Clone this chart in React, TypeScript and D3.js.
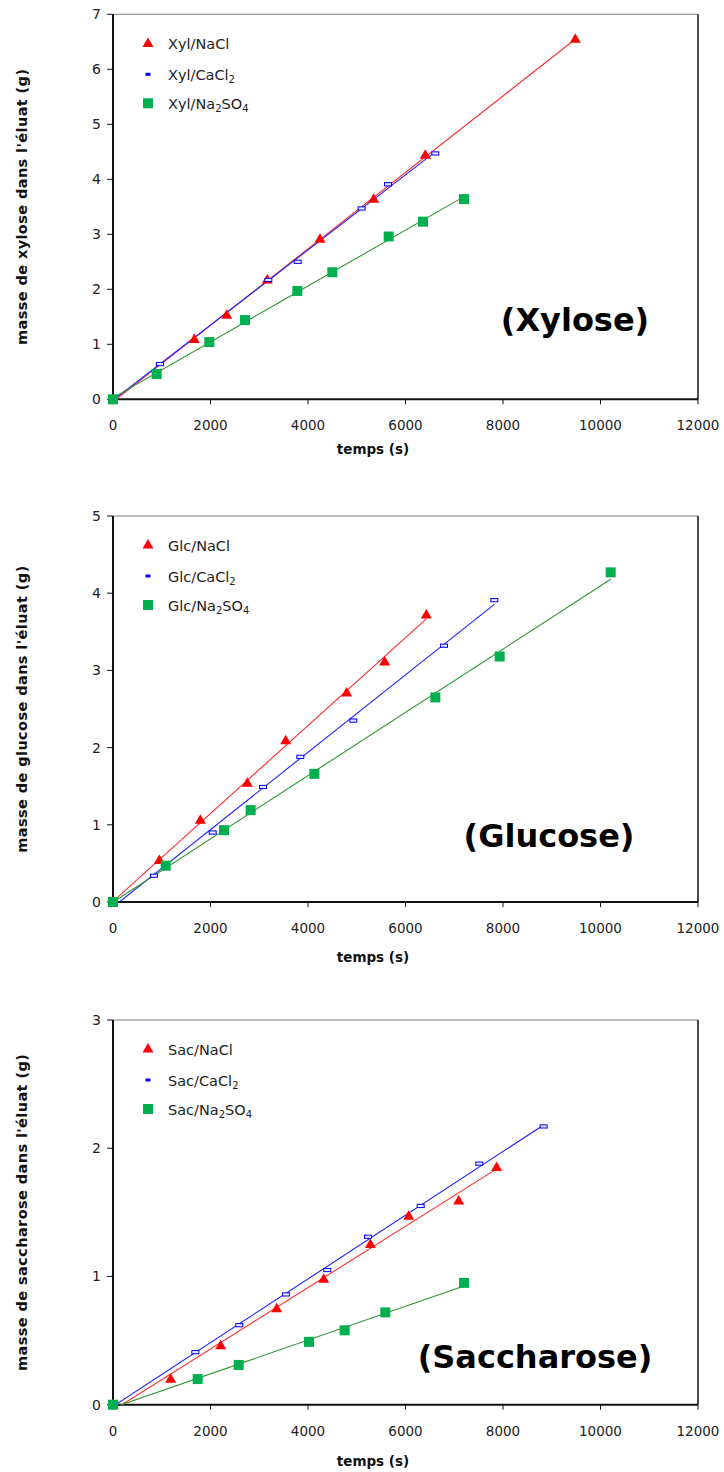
import React from "react";
import * as d3 from "d3";

// ---- data: [time (s), mass (g)] ----
const xylNaCl: [number, number][] = [[0, 0], [1667, 1.09], [2332, 1.53], [3165, 2.17], [4246, 2.91], [5347, 3.64], [6406, 4.44], [9483, 6.55]];
const xylCaCl2: [number, number][] = [[0, 0], [964, 0.64], [3186, 2.17], [3788, 2.5], [5101, 3.47], [5641, 3.91], [6611, 4.47]];
const xylNa2SO4: [number, number][] = [[0, 0], [896, 0.46], [1976, 1.04], [2708, 1.44], [3781, 1.97], [4499, 2.31], [5655, 2.96], [6359, 3.23], [7200, 3.64]];

const glcNaCl: [number, number][] = [[0, 0], [950, 0.54], [1791, 1.06], [2755, 1.54], [3542, 2.09], [4793, 2.71], [5573, 3.11], [6427, 3.72]];
const glcCaCl2: [number, number][] = [[0, 0], [841, 0.34], [2045, 0.9], [3077, 1.49], [3842, 1.88], [4929, 2.35], [6790, 3.32], [7822, 3.91]];
const glcNa2SO4: [number, number][] = [[0, 0], [1081, 0.47], [2277, 0.93], [2824, 1.19], [4130, 1.66], [6612, 2.65], [7932, 3.18], [10209, 4.27]];

const sacNaCl: [number, number][] = [[0, 0], [1183, 0.2], [2209, 0.46], [3357, 0.75], [4322, 0.98], [5279, 1.25], [6065, 1.47], [7091, 1.59], [7870, 1.85]];
const sacCaCl2: [number, number][] = [[0, 0], [1689, 0.41], [2591, 0.62], [3549, 0.86], [4396, 1.05], [5231, 1.31], [6312, 1.55], [7514, 1.88], [8834, 2.17]];
const sacNa2SO4: [number, number][] = [[0, 0], [1737, 0.2], [2578, 0.31], [4021, 0.49], [4752, 0.58], [5586, 0.72], [7200, 0.95]];

const timeTicks = [0, 2000, 4000, 6000, 8000, 10000, 12000];
const saltNames = ["NaCl", "CaCl2", "Na2SO4"];

const RED = "#ff0000";
const BLUE = "#0000ff";
const GREEN = "#00b050";
const lineColors = ["#ff2a2a", "#2020ff", "#2a962a"];

type Panel = {
  prefix: string;
  title: string;
  yLabel: string;
  yMax: number;
  top: number;
  bottom: number;
  series: [number, number][][];
  labelX: number;
  labelY: number;
  xTitleOffset: number;
};

const panels: Panel[] = [
  { prefix: "Xyl", title: "(Xylose)", yLabel: "masse de xylose dans l'éluat (g)", yMax: 7, top: 14.3, bottom: 399.3, series: [xylNaCl, xylCaCl2, xylNa2SO4], labelX: 575, labelY: 331, xTitleOffset: 50 },
  { prefix: "Glc", title: "(Glucose)", yLabel: "masse de glucose dans l'éluat (g)", yMax: 5, top: 516, bottom: 902, series: [glcNaCl, glcCaCl2, glcNa2SO4], labelX: 549, labelY: 847, xTitleOffset: 55 },
  { prefix: "Sac", title: "(Saccharose)", yLabel: "masse de saccharose dans l'éluat (g)", yMax: 3, top: 1020, bottom: 1404.7, series: [sacNaCl, sacCaCl2, sacNa2SO4], labelX: 535, labelY: 1368, xTitleOffset: 56 },
];

const X0 = 113;
const X1 = 698;
const FONT = "'DejaVu Sans', sans-serif";

// least-squares straight line through a series
function fit(pts: [number, number][]) {
  const mx = d3.mean(pts, (p) => p[0])!;
  const my = d3.mean(pts, (p) => p[1])!;
  let sxy = 0, sxx = 0;
  for (const [x, y] of pts) {
    sxy += (x - mx) * (y - my);
    sxx += (x - mx) * (x - mx);
  }
  const slope = sxy / sxx;
  return { slope, intercept: my - slope * mx };
}

function Marker({ kind, x, y, legend }: { kind: number; x: number; y: number; legend?: boolean }) {
  if (kind === 0) {
    const w = 5.5, h = 9.5;
    return <path d={`M${x},${y - h * 0.62}L${x + w},${y + h * 0.38}L${x - w},${y + h * 0.38}Z`} fill={RED} />;
  }
  if (kind === 1) {
    if (legend) return <rect x={x - 2.5} y={y - 1.5} width={5} height={3} fill={BLUE} />;
    return <rect x={x - 3.5} y={y - 1.6} width={7} height={3.2} fill="#e8e8ff" stroke={BLUE} strokeWidth={1} />;
  }
  return <rect x={x - 5} y={y - 5} width={10} height={10} fill={GREEN} />;
}

function LegendText({ prefix, salt, x, y }: { prefix: string; salt: string; x: number; y: number }) {
  const common = { x, y, fontFamily: FONT, fontSize: 14.5, fill: "#222", dominantBaseline: "central" as const };
  if (salt === "NaCl") return <text {...common}>{prefix}/NaCl</text>;
  if (salt === "CaCl2")
    return (
      <text {...common}>
        {prefix}/CaCl<tspan fontSize={10} dy={4}>2</tspan>
      </text>
    );
  return (
    <text {...common}>
      {prefix}/Na<tspan fontSize={10} dy={4}>2</tspan>
      <tspan dy={-4}>SO</tspan>
      <tspan fontSize={10} dy={4}>4</tspan>
    </text>
  );
}

function ChartPanel({ p, idx }: { p: Panel; idx: number }) {
  const x = d3.scaleLinear().domain([0, 12000]).range([X0, X1]);
  const y = d3.scaleLinear().domain([0, p.yMax]).range([p.bottom, p.top]);
  const yTicks = d3.range(0, p.yMax + 1);
  const clipId = `clip-${idx}`;
  const legendRows = [29, 60, 89];
  return (
    <g>
      <defs>
        <clipPath id={clipId}>
          <rect x={X0} y={p.top} width={X1 - X0} height={p.bottom - p.top} />
        </clipPath>
      </defs>
      {/* frame */}
      <line x1={X0} x2={X1} y1={p.top} y2={p.top} stroke="#808080" strokeWidth={1} />
      <line x1={X1} x2={X1} y1={p.top} y2={p.bottom} stroke="#111" strokeWidth={1.5} />
      <line x1={X0} x2={X0} y1={p.top} y2={p.bottom + 1} stroke="#111" strokeWidth={2} />
      <line x1={X0} x2={X1} y1={p.bottom} y2={p.bottom} stroke="#111" strokeWidth={2} />
      {/* y ticks */}
      {yTicks.map((t) => (
        <g key={`y${t}`}>
          <line x1={X0 - 6} x2={X0} y1={y(t)} y2={y(t)} stroke="#111" strokeWidth={1} />
          <text x={101} y={y(t)} textAnchor="end" dominantBaseline="central" fontFamily={FONT} fontSize={14} fill="#222">
            {t}
          </text>
        </g>
      ))}
      {/* x ticks */}
      {timeTicks.map((t) => (
        <g key={`x${t}`}>
          <line x1={x(t)} x2={x(t)} y1={p.bottom} y2={p.bottom + 5} stroke="#111" strokeWidth={1} />
          <text x={x(t)} y={p.bottom + 26} textAnchor="middle" dominantBaseline="central" fontFamily={FONT} fontSize={13.5} fill="#222">
            {t}
          </text>
        </g>
      ))}
      {/* axis titles */}
      <text x={373} y={p.bottom + p.xTitleOffset} textAnchor="middle" dominantBaseline="central" fontFamily={FONT} fontWeight="bold" fontSize={13.5} fill="#111">
        temps (s)
      </text>
      <text
        transform={`translate(22,${(p.top + p.bottom) / 2}) rotate(-90)`}
        textAnchor="middle"
        dominantBaseline="central"
        fontFamily={FONT}
        fontWeight="bold"
        fontSize={14.5}
        letterSpacing={0.4}
        fill="#111"
      >
        {p.yLabel}
      </text>
      {/* regression lines */}
      <g clipPath={`url(#${clipId})`}>
        {p.series.map((s, i) => {
          const f = fit(s);
          const xmax = d3.max(s, (d) => d[0])!;
          const line = d3.line<number>().x((t) => x(t)).y((t) => y(f.slope * t + f.intercept));
          return <path key={`l${i}`} d={line([0, xmax]) ?? ""} stroke={lineColors[i]} strokeWidth={1.1} fill="none" />;
        })}
      </g>
      {/* markers */}
      {p.series.map((s, i) => (
        <g key={`m${i}`}>
          {s.map((d, j) => (
            <Marker key={j} kind={i} x={x(d[0])} y={y(d[1])} />
          ))}
        </g>
      ))}
      {/* legend */}
      {saltNames.map((salt, i) => (
        <g key={salt}>
          <Marker kind={i} x={148} y={p.top + legendRows[i]} legend />
          <LegendText prefix={p.prefix} salt={salt} x={168} y={p.top + legendRows[i] + 1} />
        </g>
      ))}
      {/* sugar label */}
      <text x={p.labelX} y={p.labelY} textAnchor="middle" fontFamily={FONT} fontWeight="bold" fontSize={32} fill="#000">
        {p.title}
      </text>
    </g>
  );
}

export default function App() {
  return (
    <svg width={724} height={1472} style={{ position: "absolute", left: 0, top: 0, background: "#fff" }}>
      <rect width={724} height={1472} fill="#fff" />
      {panels.map((p, i) => (
        <ChartPanel key={p.prefix} p={p} idx={i} />
      ))}
    </svg>
  );
}
